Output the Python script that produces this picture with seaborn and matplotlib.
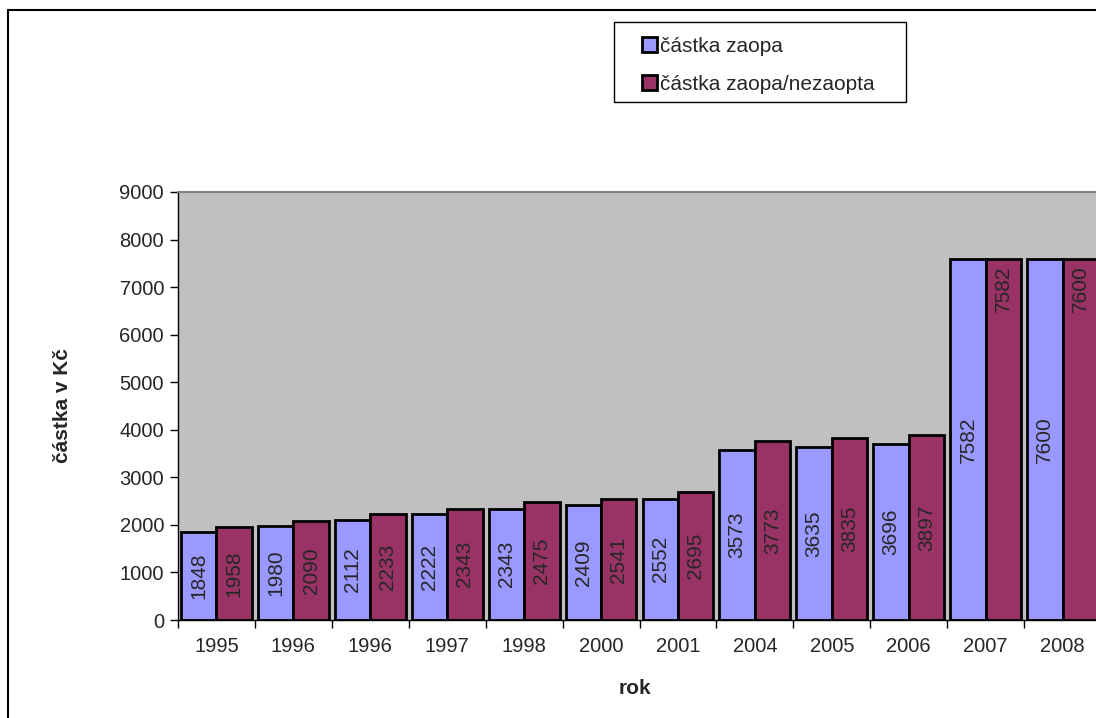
import pandas as pd
import matplotlib.pyplot as plt
import matplotlib.patches as mpatches
from matplotlib.lines import Line2D
import seaborn as sns

# === data ===
years = ['1995', '1996', '1996', '1997', '1998', '2000', '2001',
         '2004', '2005', '2006', '2007', '2008']
zaopa = [1848, 1980, 2112, 2222, 2343, 2409, 2552, 3573, 3635, 3696, 7582, 7600]
zaopa_nezaopta = [1958, 2090, 2233, 2343, 2475, 2541, 2695, 3773, 3835, 3897, 7582, 7600]
series_names = ['částka zaopa', 'částka zaopa/nezaopta']
colors = ['#9999FF', '#993366']

n = len(years)
df = pd.DataFrame({
    'pos': list(range(n)) * 2,
    'value': zaopa + zaopa_nezaopta,
    'series': [series_names[0]] * n + [series_names[1]] * n,
})

sns.set_style('white')
plt.rcParams['font.family'] = ['Liberation Sans', 'DejaVu Sans']
plt.rcParams['font.size'] = 14.5

fig = plt.figure(figsize=(10.96, 7.18), dpi=100)
ax = fig.add_axes([178 / 1096, 1 - 620 / 718, 923 / 1096, 428 / 718])

sns.barplot(data=df, x='pos', y='value', hue='series', hue_order=series_names,
            palette=colors, width=0.92, saturation=1, edgecolor='black',
            linewidth=2, ax=ax, legend=False)

ax.set_facecolor('#C0C0C0')
ax.set_ylim(0, 9000)
ax.set_xlim(-0.5, n - 0.5)
ax.set_yticks(range(0, 9001, 1000))

# value labels inside bars
for i, cont in enumerate(ax.containers):
    for j, bar in enumerate(cont):
        h = bar.get_height()
        xc = bar.get_x() + bar.get_width() / 2
        if i == 1 and h > 7000:
            ax.text(xc, h - 130, f'{int(h)}', rotation=90, ha='center', va='top', fontsize=15)
        else:
            ax.text(xc, h / 2, f'{int(h)}', rotation=90, ha='center', va='center', fontsize=15)

# Excel-style ticks: marks on category boundaries, labels on centres
ax.set_xticks([k - 0.5 for k in range(n + 1)])
ax.set_xticklabels([])
ax.set_xticks(range(n), minor=True)
ax.set_xticklabels(years, minor=True)
ax.tick_params(axis='x', which='major', length=6, width=1, color='black', direction='out')
ax.tick_params(axis='x', which='minor', length=0, pad=12, labelsize=14.5)
ax.tick_params(axis='y', length=6, width=1, color='black', direction='out', labelsize=14.5, pad=4)
ax.xaxis.set_ticks_position('bottom')
ax.yaxis.set_ticks_position('left')

for side in ['left', 'bottom']:
    ax.spines[side].set_color('black')
    ax.spines[side].set_linewidth(1)
ax.spines['top'].set_color('#808080')
ax.spines['top'].set_linewidth(1.5)
ax.spines['right'].set_visible(False)

ax.set_xlabel('')
ax.set_ylabel('')
fig.text(62 / 1096, 1 - 406 / 718, 'částka v Kč', rotation=90, ha='center', va='center',
         fontsize=15, fontweight='bold')
fig.text(635 / 1096, 1 - 688 / 718, 'rok', ha='center', va='center',
         fontsize=15, fontweight='bold')

# legend: box drawn separately so its padding matches the original
fig.add_artist(mpatches.Rectangle((614 / 1096, 1 - 102 / 718), 292 / 1096, 80 / 718,
                                  transform=fig.transFigure, fill=False,
                                  edgecolor='black', linewidth=1))
handles = [mpatches.Patch(facecolor=c, edgecolor='black', linewidth=2, label=s)
           for c, s in zip(colors, series_names)]
leg = fig.legend(handles=handles, loc='upper left',
                 bbox_to_anchor=(642 / 1096, 1 - 37 / 718), frameon=False,
                 handlelength=0.72, handleheight=0.72, handletextpad=0.15, labelspacing=0.9,
                 borderpad=0, borderaxespad=0, fontsize=15)

# outer chart border
fig.add_artist(Line2D([8 / 1096, 8 / 1096], [0, 1 - 10 / 718], color='black', lw=1.5))
fig.add_artist(Line2D([8 / 1096, 1], [1 - 10 / 718, 1 - 10 / 718], color='black', lw=1.5))

plt.savefig('out.png', dpi=100)
plt.close()
